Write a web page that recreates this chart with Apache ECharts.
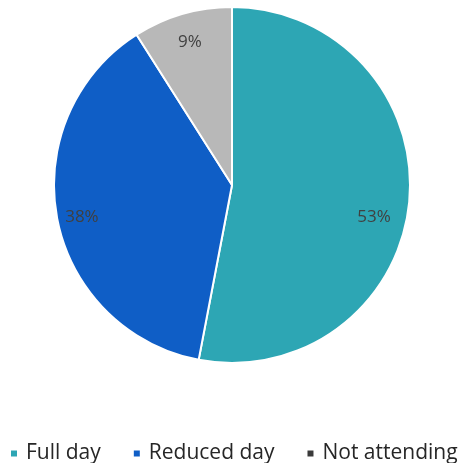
<!DOCTYPE html>
<html>
<head>
<meta charset="utf-8">
<script src="https://cdn.jsdelivr.net/npm/echarts@6/dist/echarts.min.js"></script>
<style>
  html, body { margin: 0; padding: 0; background: #ffffff; }
  #chart { width: 462px; height: 463px; }
</style>
</head>
<body>
<div id="chart"></div>
<script>
// Attendance split
const categories = ['Full day', 'Reduced day', 'Not attending'];
const shares = [53, 38, 9];
const colors = ['#2da6b4', '#0f5ec6', '#b8b8b8'];
const legendIconColors = ['#2da6b4', '#0f5ec6', '#3a3a3a'];

const pieData = categories.map((name, i) => ({
  name: name,
  value: shares[i],
  itemStyle: { color: colors[i] }
}));

const center = [232, 185];
const outerR = 178;

// small manual nudges for the percentage labels (best-fit style placement)
const labelNudge = { 'Full day': [-8, 18], 'Reduced day': [-2, 4], 'Not attending': [0, 2] };

const chart = echarts.init(document.getElementById('chart'), null, { renderer: 'canvas' });
chart.setOption({
  animation: false,
  backgroundColor: '#ffffff',
  legend: {
    data: categories.map((name, i) => ({ name: name, itemStyle: { color: legendIconColors[i] } })),
    left: 4,
    top: 438,
    width: 600,
    icon: 'rect',
    itemWidth: 8,
    itemHeight: 8,
    itemGap: 31,
    textStyle: { fontFamily: 'Open Sans', fontSize: 21, color: '#262626', padding: [0, 0, 0, 3] }
  },
  series: [
    {
      type: 'pie',
      center: center,
      radius: [0, outerR],
      startAngle: 90,
      clockwise: true,
      silent: true,
      data: pieData,
      itemStyle: { borderColor: '#ffffff', borderWidth: 2 },
      label: { show: false },
      labelLine: { show: false }
    },
    {
      // transparent ring used only to place the percentage labels
      type: 'pie',
      center: center,
      radius: [outerR * 0.66, outerR],
      startAngle: 90,
      clockwise: true,
      silent: true,
      legendHoverLink: false,
      data: categories.map((name, i) => ({
        name: name,
        value: shares[i],
        itemStyle: { color: 'rgba(0,0,0,0)' },
        label: { offset: labelNudge[name] }
      })),
      label: {
        show: true,
        position: 'inside',
        formatter: p => p.value + '%',
        fontFamily: 'Open Sans',
        fontSize: 17,
        color: '#404040'
      },
      labelLine: { show: false }
    }
  ]
});
</script>
</body>
</html>
